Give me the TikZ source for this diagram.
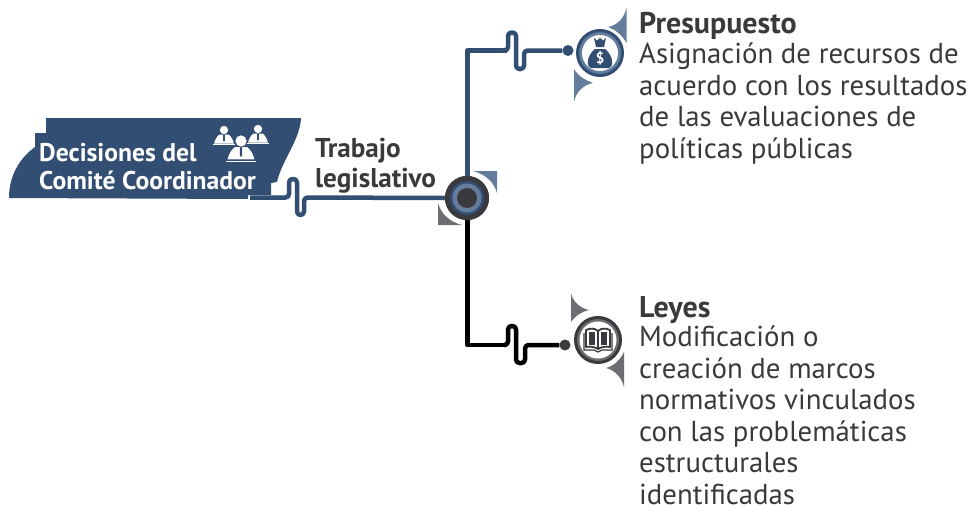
\documentclass[tikz,border=0pt]{standalone}
\usepackage{fontspec}
\setmainfont{PT Sans}
\definecolor{navy}{HTML}{324E73}
\definecolor{slate}{HTML}{647D9C}
\definecolor{ink}{HTML}{3A3A3E}
\definecolor{midgray}{HTML}{6E6E72}
\tikzset{
  blueline/.style={draw=navy,line width=4.5pt,line join=round,rounded corners=3.5pt},
  blackline/.style={draw=black,line width=4.5pt,line join=round,rounded corners=3.5pt},
  bodytext/.style={anchor=north west,inner sep=0pt,align=left,text=ink,font=\fontsize{28.8}{31.5}\selectfont},
  headtext/.style={anchor=base west,inner sep=0pt,align=left,text=ink,font=\fontsize{30}{30}\selectfont\bfseries},
  sidetext/.style={anchor=base west,inner sep=0pt,align=left,text=ink,font=\fontsize{27.2}{30}\selectfont\bfseries},
  bannertext/.style={anchor=base west,inner sep=0pt,align=left,text=white,font=\fontsize{25.6}{28}\selectfont\bfseries},
  dotnode/.style={circle,inner sep=0pt,minimum size=#1},
}
\newcommand{\person}[3]{% x y scale
  \begin{scope}[shift={(#1,#2)},scale=#3]
    \fill[white] (0,0) circle (4.6);
    \fill[white] (-5,5) -- (5,5) .. controls (8,7) and (10,11) .. (11,15) -- (-11,15) .. controls (-10,11) and (-8,7) .. (-5,5) -- cycle;
    \fill[navy] (-1,5) -- (1,5) -- (1,12) -- (0,13) -- (-1,12) -- cycle;
    \draw[white,line width=.9pt] (-12,16.5) -- (12,16.5);
  \end{scope}}
\begin{document}
\begin{tikzpicture}[x=1pt,y=-1pt]
\useasboundingbox (0,0) rectangle (969,509);
% banner
\fill[navy] (46,118) -- (301,118) .. controls (300,140) and (282,160) .. (277,182)
  -- (271,183) -- (271,195) -- (248,195) -- (248,199) -- (9,198)
  .. controls (9,175) and (20,158) .. (35,147) -- (35,133) -- (46,133) -- cycle;
\person{224}{130}{0.9}
\person{258}{129}{0.9}
\person{241}{141}{1.22}
\node[bannertext] (banner) at (39,161) {Decisiones del};
\node[bannertext] (banner2) at (39,189) {Comité Coordinador};
\node[sidetext] (trabajo) at (315,157) {Trabajo};
\node[sidetext] (legis) at (315,187) {legislativo};
% hub wings
\fill[slate] (473,171) -- (497,171) -- (497,193) .. controls (494,182) and (485,174) .. (473,171) -- cycle;
\fill[midgray] (438,203) -- (438,225) -- (462,225) .. controls (450,222) and (441,214) .. (438,203) -- cycle;
% positions
\coordinate (start) at (250,197.5);
\coordinate (topcorner) at (467.5,50.5);
\coordinate (botcorner) at (467.5,345);
\node[dotnode=11pt,fill=navy] (dotA) at (568,50.5) {};
\node[dotnode=11pt,fill=ink] (dotB) at (565,345) {};
\node[dotnode=44pt,fill=ink] (hub) at (467,198) {};
% connectors
\draw[blueline] (start) -- (289,197.5) -- (289,179) -- (297,179) -- (297,215) -- (304,215) -- (304,197.5) -- (hub.west);
\draw[blueline,rounded corners=0pt] (hub.north -| topcorner) -- (topcorner) -- (507,50.5);
\draw[blueline] (505,50.5) -- (508,50.5) -- (508,32.5) -- (516,32.5) -- (516,69) -- (524,69) -- (524,50.5) -- (dotA.west);
\draw[blackline,rounded corners=0pt] (hub.south -| botcorner) -- (botcorner) -- (507,345);
\draw[blackline] (505,345) -- (508,345) -- (508,326) -- (516,326) -- (516,363) -- (525,363) -- (525,345) -- (dotB.west);
% hub layers
\fill[ink] (hub) circle (22);
\fill[navy] (hub) circle (17);
\fill[slate] (hub) circle (14.5);
\fill[ink] (hub) circle (10);
% budget icon
\fill[slate] (626.5,8) .. controls (624,18) and (618,25) .. (608,27) .. controls (616,30) and (622,35) .. (626.5,43) -- cycle;
\fill[slate] (574,102) .. controls (576,92) and (583,85) .. (593,83) .. controls (585,80) and (578,76) .. (574,69) -- cycle;
\node[circle,draw=navy,line width=3pt,fill=slate,minimum size=45pt,inner sep=0pt] (budget) at (600,53) {};
\fill[white] (budget) circle (18);
\fill[navy] (595,49) .. controls (586,56) and (586,68) .. (592,68) -- (608,68) .. controls (614,68) and (614,56) .. (605,49) -- cycle;
\fill[navy] (594,38) -- (597,40.5) -- (600,38) -- (603,40.5) -- (606,38) -- (604,47) -- (596,47) -- cycle;
\node[text=white,inner sep=0pt,font=\fontsize{15}{15}\selectfont\bfseries] (dollar) at (600,58.5) {\$};
% book icon
\fill[midgray] (571,293) .. controls (573,302) and (580,308) .. (589,310) .. controls (581,312) and (575,316) .. (571,322) -- cycle;
\fill[midgray] (624,387) .. controls (622,378) and (615,370) .. (606,368) .. controls (614,366) and (620,360) .. (624,352) -- cycle;
\node[circle,draw=ink,line width=3pt,fill=midgray,minimum size=45pt,inner sep=0pt] (book) at (598,340) {};
\fill[white] (book) circle (18.5);
\draw[ink,line width=1.8pt,line join=round,fill=white] (586,330) .. controls (590,328) and (595,328) .. (598,331) .. controls (601,328) and (606,328) .. (610,330) -- (610,347) .. controls (606,346) and (601,347) .. (598,349) .. controls (595,347) and (590,346) .. (586,347) -- cycle;
\draw[ink,line width=1.8pt] (598,331) -- (598,349);
\fill[ink] (589,332) rectangle (595,345);
\fill[ink] (601,332) rectangle (607,345);
\draw[ink,line width=1.3pt] (584,333) -- (584,350) -- (594,350) -- (598,352) -- (602,350) -- (612,350) -- (612,333);
% texts
\node[headtext] (presu) at (639,33) {Presupuesto};
\node[bodytext] (presubody) at (639,43) {Asignación de recursos de\\acuerdo con los resultados\\de las evaluaciones de\\políticas públicas};
\node[headtext] (leyes) at (639,317) {Leyes};
\node[bodytext] (leyesbody) at (639,326) {Modificación o\\creación de marcos\\normativos vinculados\\con las problemáticas\\estructurales\\identificadas};
\end{tikzpicture}
\end{document}
